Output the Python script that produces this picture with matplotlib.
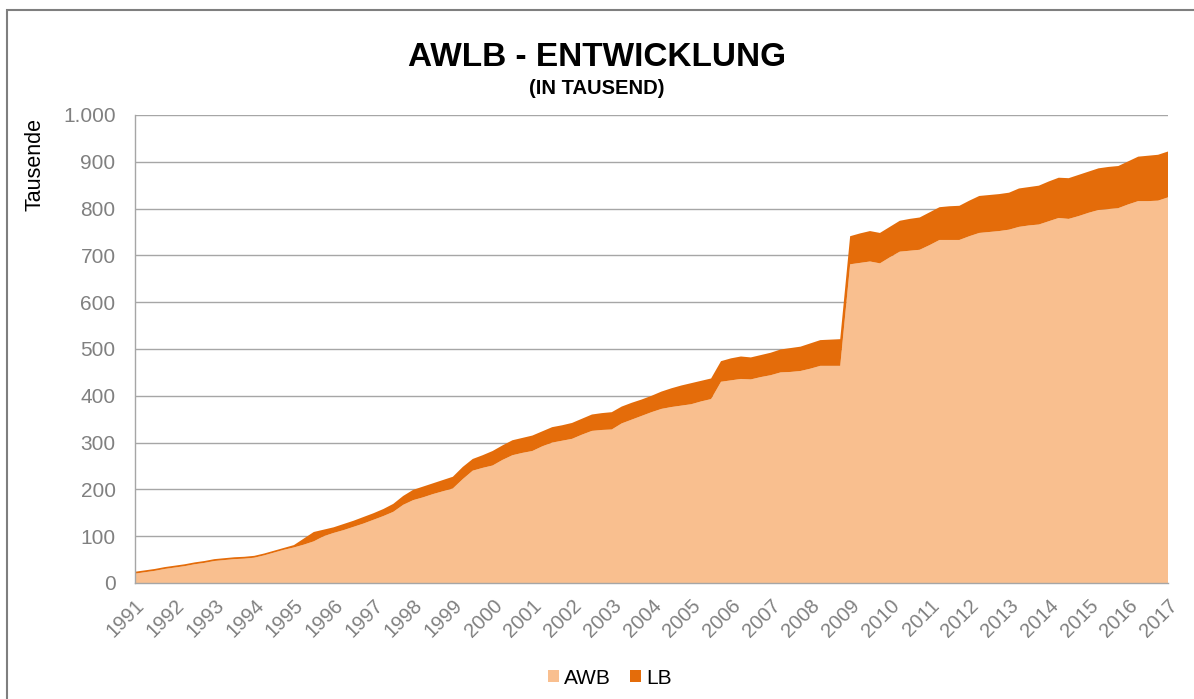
import numpy as np
import matplotlib
matplotlib.use("Agg")
import matplotlib.pyplot as plt
from matplotlib.patches import Rectangle

plt.rcParams['font.family'] = ['Liberation Sans', 'DejaVu Sans']

# Quarterly values (in thousands), 1991 Q1 .. 2017 Q1
awb = [20, 23, 26, 30, 33, 36, 40, 43, 47, 49, 51, 52, 54, 59, 65, 71,
       76, 82, 89, 100, 107, 113, 120, 127, 135, 143, 152, 167, 177, 183,
       190, 196, 202, 222, 240, 246, 251, 263, 273, 278, 282, 292, 300, 304,
       308, 317, 325, 327, 328, 341, 349, 357, 365, 372, 376, 379, 382, 388,
       393, 430, 433, 436, 435, 440, 444, 450, 451, 453, 458, 464, 464, 464,
       681, 684, 687, 683, 696, 708, 710, 712, 722, 733, 733, 733, 741, 748,
       750, 752, 755, 761, 764, 766, 773, 780, 778, 784, 791, 797, 799, 801,
       809, 816, 816, 817, 824]
lb = [4, 4, 4, 4, 4, 4, 4, 4, 4, 4, 4, 4, 4, 4, 4, 4,
      5, 13, 20, 14, 12, 13, 13, 14, 14, 15, 17, 19, 22, 23,
      23, 24, 25, 26, 25, 27, 31, 31, 32, 32, 33, 32, 33, 33,
      34, 34, 35, 36, 37, 36, 36, 35, 35, 37, 40, 43, 45, 44,
      44, 44, 47, 48, 47, 47, 48, 49, 51, 52, 54, 55, 56, 57,
      60, 63, 65, 65, 65, 66, 68, 69, 70, 70, 72, 73, 76, 79,
      79, 79, 79, 82, 82, 83, 85, 86, 87, 88, 88, 89, 90, 90,
      92, 95, 97, 98, 98]
year_labels = [str(y) for y in range(1991, 2018)]
series_names = ["AWB", "LB"]

first_year = 1991
x = first_year + np.arange(len(awb)) / 4.0

W, H = 1194, 699
fig = plt.figure(figsize=(W / 100, H / 100), dpi=100)
ax = fig.add_axes([135 / W, 1 - 583 / H, (1168 - 135) / W, (583 - 115) / H])

c_awb = "#F9BF8F"
c_lb = "#E46C0A"
ax.stackplot(x, awb, lb, colors=[c_awb, c_lb], labels=series_names,
             linewidth=0, zorder=2)

ax.set_xlim(1991, 2017)
ax.set_ylim(0, 1000)
ax.set_yticks(range(0, 1001, 100))
ax.set_yticklabels([f"{v:,}".replace(",", ".") for v in range(0, 1001, 100)])
ax.set_xticks(range(1991, 2018))
ax.set_xticklabels(year_labels, rotation=45, ha="right", va="top",
                   rotation_mode="anchor")

ax.grid(axis="y", color="#A6A6A6", linewidth=1.0, zorder=0)
ax.set_axisbelow(True)
for s in ["top", "right"]:
    ax.spines[s].set_visible(False)
for s in ["left", "bottom"]:
    ax.spines[s].set_color("#A6A6A6")
    ax.spines[s].set_linewidth(1.0)
    ax.spines[s].set_zorder(3)

ax.tick_params(axis="both", length=0, colors="#808080")
ax.tick_params(axis="y", pad=14, labelsize=15)
ax.tick_params(axis="x", pad=9, labelsize=14.5)

fig.text(35 / W, 1 - 118 / H, "Tausende", rotation=90, ha="center", va="top",
         fontsize=15.5, color="black")

fig.text(0.5, 1 - 57 / H, "AWLB - ENTWICKLUNG", ha="center", va="center",
         fontsize=24, fontweight="bold", color="black")
fig.text(0.5, 1 - 88 / H, "(IN TAUSEND)", ha="center", va="center",
         fontsize=14.5, fontweight="bold", color="black")

fig.legend(loc="center", bbox_to_anchor=(610 / W, 1 - 678 / H), ncol=2,
           frameon=False, fontsize=15, handlelength=0.55, handleheight=0.55,
           handletextpad=0.25, columnspacing=0.9)

fig.patches.append(Rectangle((7 / W, -0.05), 1.1, 1.05 - 10 / H,
                             transform=fig.transFigure, fill=False,
                             edgecolor="#7F7F7F", linewidth=1.5))

fig.savefig("out.png", dpi=100)
